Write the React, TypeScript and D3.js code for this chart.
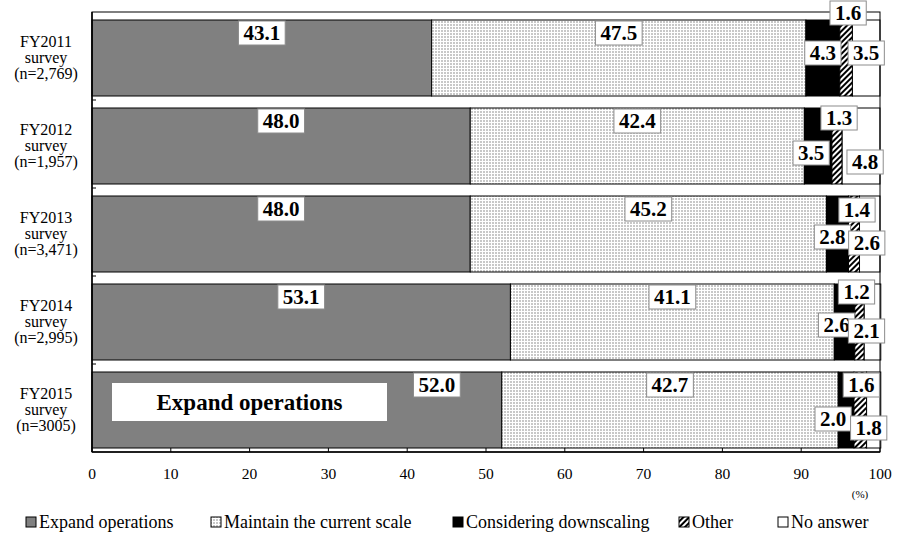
import React from "react";
import * as d3 from "d3";

const categories = ["FY2011", "FY2012", "FY2013", "FY2014", "FY2015"];
const sampleSizes = ["(n=2,769)", "(n=1,957)", "(n=3,471)", "(n=2,995)", "(n=3005)"];
const seriesKeys = ["expand", "maintain", "downscale", "other", "noAnswer"];
const seriesNames = [
  "Expand operations",
  "Maintain the current scale",
  "Considering downscaling",
  "Other",
  "No answer",
];
const expand = [43.1, 48.0, 48.0, 53.1, 52.0];
const maintain = [47.5, 42.4, 45.2, 41.1, 42.7];
const downscale = [4.3, 3.5, 2.8, 2.6, 2.0];
const other = [1.6, 1.3, 1.4, 1.2, 1.6];
const noAnswer = [3.5, 4.8, 2.6, 2.1, 1.8];
const xTicks = [0, 10, 20, 30, 40, 50, 60, 70, 80, 90, 100];

// layout (label nudges relative to segment centre / bar centre)
const bigDx = [
  [0, 0, 0, 0, 140],
  [0, 0, 0, 0, 0],
];
const downNudge = [
  [0, -5],
  [-7, 7],
  [-5, 3],
  [-8, 3],
  [-13, 9],
];
const otherNudge = [
  [2, -45],
  [2, -28],
  [3, -24],
  [-3, -30],
  [1, -25],
];
const noAnsNudge = [
  [0, -5],
  [4, 16],
  [-3, 9],
  [-6, 9],
  [-5, 18],
];

const FONT = "Liberation Serif, DejaVu Serif, serif";
const fills = ["#808080", "url(#dots)", "#000000", "url(#hatch)", "#ffffff"];

function textWidth(s: string, size: number) {
  let w = 0;
  for (const ch of s) w += ch === "." ? 0.25 : 0.5;
  return w * size;
}

function Label({ x, y, text, size }: { x: number; y: number; text: string; size: number }) {
  const w = textWidth(text, size) + 10;
  const h = size + 3;
  return (
    <g>
      <rect x={x - w / 2} y={y - h / 2} width={w} height={h} fill="#fff" stroke="#8c8c8c" strokeWidth={1} />
      <text
        x={x}
        y={y}
        textAnchor="middle"
        dominantBaseline="central"
        style={{ fontFamily: FONT, fontWeight: "bold", fontSize: size }}
        fill="#000"
      >
        {text}
      </text>
    </g>
  );
}

export default function App() {
  const left = 92,
    right = 880,
    top = 12,
    bottom = 452;
  const x = d3.scaleLinear().domain([0, 100]).range([left, right]);
  const y = d3.scaleBand<string>().domain(categories).range([top, bottom]).padding(0);
  const barOffset = 8;
  const barH = 76;

  const rows = categories.map((c, i) => ({
    cat: c,
    expand: expand[i],
    maintain: maintain[i],
    downscale: downscale[i],
    other: other[i],
    noAnswer: noAnswer[i],
  }));
  const stacked = d3.stack<any>().keys(seriesKeys)(rows);

  const seg = (k: number, i: number) => stacked[k][i];
  const mid = (k: number, i: number) => (x(seg(k, i)[0]) + x(seg(k, i)[1])) / 2;
  const barTop = (i: number) => (y(categories[i]) as number) + barOffset;
  const barMid = (i: number) => barTop(i) + barH / 2;

  const legendX = [26, 211, 453, 679, 778];
  const LBL = 21;

  return (
    <svg
      width={906}
      height={536}
      style={{ position: "absolute", left: 0, top: 0, display: "block", background: "#fff", fontFamily: FONT }}
    >
      <defs>
        <pattern id="dots" width={3} height={3} patternUnits="userSpaceOnUse">
          <rect width={3} height={3} fill="#ffffff" />
          <rect width={2} height={2} fill="#c8c8c8" />
        </pattern>
        <pattern id="hatch" width={4} height={4} patternUnits="userSpaceOnUse" patternTransform="rotate(45)">
          <rect width={4} height={4} fill="#ffffff" />
          <rect width={2} height={4} fill="#000000" />
        </pattern>
      </defs>
      <rect width={906} height={536} fill="#fff" />

      {/* bars */}
      {stacked.map((layer, k) =>
        layer.map((d, i) => (
          <rect
            key={`${k}-${i}`}
            x={x(d[0])}
            y={barTop(i)}
            width={x(d[1]) - x(d[0])}
            height={barH}
            fill={fills[k]}
            stroke="#000"
            strokeWidth={1}
          />
        ))
      )}

      {/* plot frame */}
      <rect x={left} y={top} width={right - left} height={bottom - top} fill="none" stroke="#000" strokeWidth={1} />
      <line x1={left} x2={left} y1={top} y2={bottom} stroke="#000" strokeWidth={1.5} />
      <line x1={left} x2={right} y1={bottom} y2={bottom} stroke="#000" strokeWidth={1.5} />

      {/* category ticks */}
      {categories.slice(1).map((c) => (
        <line key={c} x1={left} x2={left + 4} y1={y(c)} y2={y(c)} stroke="#000" />
      ))}
      {/* x ticks */}
      {xTicks.map((t) => (
        <g key={t}>
          <line x1={x(t)} x2={x(t)} y1={bottom} y2={bottom - 4} stroke="#000" />
          <text
            x={x(t)}
            y={bottom + 21}
            textAnchor="middle"
            dominantBaseline="central"
            style={{ fontFamily: FONT, fontSize: 15.5 }}
          >
            {t}
          </text>
        </g>
      ))}
      <text x={860} y={494} textAnchor="middle" dominantBaseline="central" style={{ fontFamily: FONT, fontSize: 11 }}>
        (%)
      </text>

      {/* category labels */}
      {categories.map((c, i) => {
        const cy = barMid(i) - 1;
        const lines = [c, "survey", sampleSizes[i]];
        return (
          <g key={c}>
            {lines.map((l, j) => (
              <text
                key={j}
                x={46}
                y={cy + (j - 1) * 16}
                textAnchor="middle"
                dominantBaseline="central"
                style={{ fontFamily: FONT, fontSize: 16 }}
              >
                {l}
              </text>
            ))}
          </g>
        );
      })}

      {/* annotation in last bar */}
      <rect x={left + 20} y={barTop(4) + 11} width={275} height={38} fill="#fff" />
      <text
        x={left + 20 + 137.5}
        y={barTop(4) + 30}
        textAnchor="middle"
        dominantBaseline="central"
        style={{ fontFamily: FONT, fontWeight: "bold", fontSize: 23 }}
      >
        {seriesNames[0]}
      </text>

      {/* value labels */}
      {categories.map((c, i) => (
        <g key={c}>
          <Label x={mid(0, i) + bigDx[0][i]} y={barTop(i) + 13} text={expand[i].toFixed(1)} size={LBL} />
          <Label x={mid(1, i) + bigDx[1][i]} y={barTop(i) + 13} text={maintain[i].toFixed(1)} size={LBL} />
          <Label
            x={mid(2, i) + downNudge[i][0]}
            y={barMid(i) + downNudge[i][1]}
            text={downscale[i].toFixed(1)}
            size={LBL}
          />
          <Label
            x={mid(3, i) + otherNudge[i][0]}
            y={barMid(i) + otherNudge[i][1]}
            text={other[i].toFixed(1)}
            size={LBL}
          />
          <Label
            x={mid(4, i) + noAnsNudge[i][0]}
            y={barMid(i) + noAnsNudge[i][1]}
            text={noAnswer[i].toFixed(1)}
            size={LBL}
          />
        </g>
      ))}

      {/* legend */}
      {seriesNames.map((n, k) => (
        <g key={n}>
          <rect x={legendX[k]} y={517} width={10} height={10} fill={fills[k]} stroke="#000" strokeWidth={1} />
          <text
            x={legendX[k] + 13}
            y={522}
            dominantBaseline="central"
            style={{ fontFamily: FONT, fontSize: 18 }}
          >
            {n}
          </text>
        </g>
      ))}
    </svg>
  );
}
